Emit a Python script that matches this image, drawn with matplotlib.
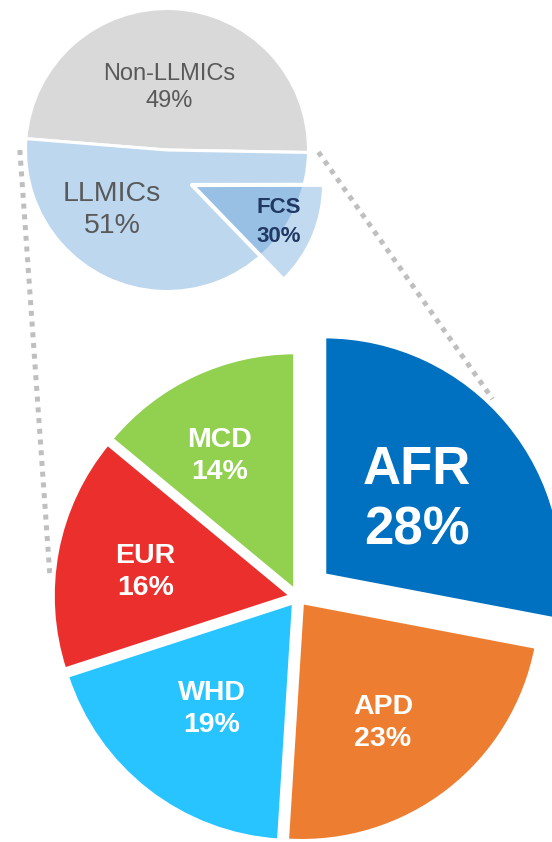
import math
import matplotlib
matplotlib.use('Agg')
import matplotlib.pyplot as plt

# ---------------- data ----------------
region_names = ['AFR', 'APD', 'WHD', 'EUR', 'MCD']
region_pct = [28, 23, 19, 16, 14]
region_colors = ['#0070C0', '#ED7D31', '#27C4FF', '#EA2F2D', '#92D050']

income_names = ['Non-LLMICs', 'LLMICs']
income_pct = [49, 51]
income_colors = ['#D9D9D9', '#BDD7EE']

fcs_name = 'FCS'
fcs_label_pct = 30
fcs_wedge_pct = 12.8   # angular share of the circle covered by the FCS wedge as drawn

# ---------------- figure ----------------
W, H = 552, 842
fig = plt.figure(figsize=(W / 100, H / 100), dpi=100)
ax = fig.add_axes([0, 0, 1, 1])
FONT = 'Liberation Sans'


def Y(py):
    return H - py


def polar(center, r, frac, ang):
    a = math.radians(ang)
    return center[0] + frac * r * math.cos(a), center[1] + frac * r * math.sin(a)


# ---------------- big pie ----------------
big_c = (298, Y(597))
big_r = 239
explode = [34, 6.4, 6.4, 6.4, 6.4]
wedges, _ = ax.pie(region_pct, colors=region_colors, explode=explode,
                   startangle=90, counterclock=False, center=big_c, radius=big_r,
                   wedgeprops=dict(edgecolor='white', linewidth=3, joinstyle='round'))

lab_frac = [0.50, 0.61, 0.565, 0.62, 0.65]
lab_dth = [-0.7, -4, 0.4, 1.7, 4]
lab_size = [38, 20.5, 20.5, 20.5, 20.5]
lab_ls = [1.29, 1.31, 1.31, 1.31, 1.31]
for w, name, pct, fr, dth, fs, ls in zip(wedges, region_names, region_pct, lab_frac,
                                        lab_dth, lab_size, lab_ls):
    mid = 0.5 * (w.theta1 + w.theta2) + dth
    x, y = polar(w.center, w.r, fr, mid)
    ax.text(x, y, f'{name}\n{pct}%', ha='center', va='center', color='white',
            fontsize=fs, fontweight='bold', family=FONT, linespacing=ls)

# ---------------- small pie ----------------
top_c = (167, Y(150))
top_r = 141.5
iw, _ = ax.pie(income_pct, colors=income_colors, startangle=-1, center=top_c, radius=top_r,
               wedgeprops=dict(edgecolor='white', linewidth=2.2, joinstyle='round'))

fcs_c = (192, Y(185))
fcs_r = 132
fcs_face = (0.357, 0.608, 0.835, 0.37)
fw, _ = ax.pie([fcs_wedge_pct, 100 - fcs_wedge_pct], colors=[fcs_face, 'none'],
               startangle=-46, center=fcs_c, radius=fcs_r,
               wedgeprops=dict(edgecolor='white', linewidth=3, joinstyle='round'))
fw[1].set_visible(False)

# labels of the small pie
x, y = polar(top_c, top_r, 0.44, 88)
ax.text(x, y, f'{income_names[0]}\n{income_pct[0]}%', ha='center', va='center',
        color='#595959', fontsize=17, family=FONT, linespacing=1.32)
x, y = polar(top_c, top_r, 0.575, 227.5)
ax.text(x, y, f'{income_names[1]}\n{income_pct[1]}%', ha='center', va='center',
        color='#595959', fontsize=20.5, family=FONT, linespacing=1.28)
fmid = 0.5 * (fw[0].theta1 + fw[0].theta2)
x, y = polar(fcs_c, fcs_r, 0.71, fmid)
ax.text(x, y, f'{fcs_name}\n{fcs_label_pct}%', ha='center', va='center',
        color='#1F3864', fontsize=16, fontweight='bold', family=FONT, linespacing=1.5)

# ---------------- dotted connectors ----------------
dot = dict(color='#BFBFBF', linewidth=3.6, linestyle=(0, (1, 1.15)),
           dash_capstyle='butt', zorder=0)
p0 = polar(top_c, top_r, 1.04, 180)
p1 = polar(big_c, big_r, 1.041, 175.4)
ax.plot([p0[0], p1[0]], [p0[1], p1[1]], **dot)
p0 = polar(top_c, top_r, 1.07, -0.8)
p1 = polar(wedges[0].center, big_r, 1.02, 46.3)
ax.plot([p0[0], p1[0]], [p0[1], p1[1]], **dot)

ax.set_xlim(0, W)
ax.set_ylim(0, H)
ax.set_aspect('auto')
ax.axis('off')
fig.savefig('out.png', dpi=100)
